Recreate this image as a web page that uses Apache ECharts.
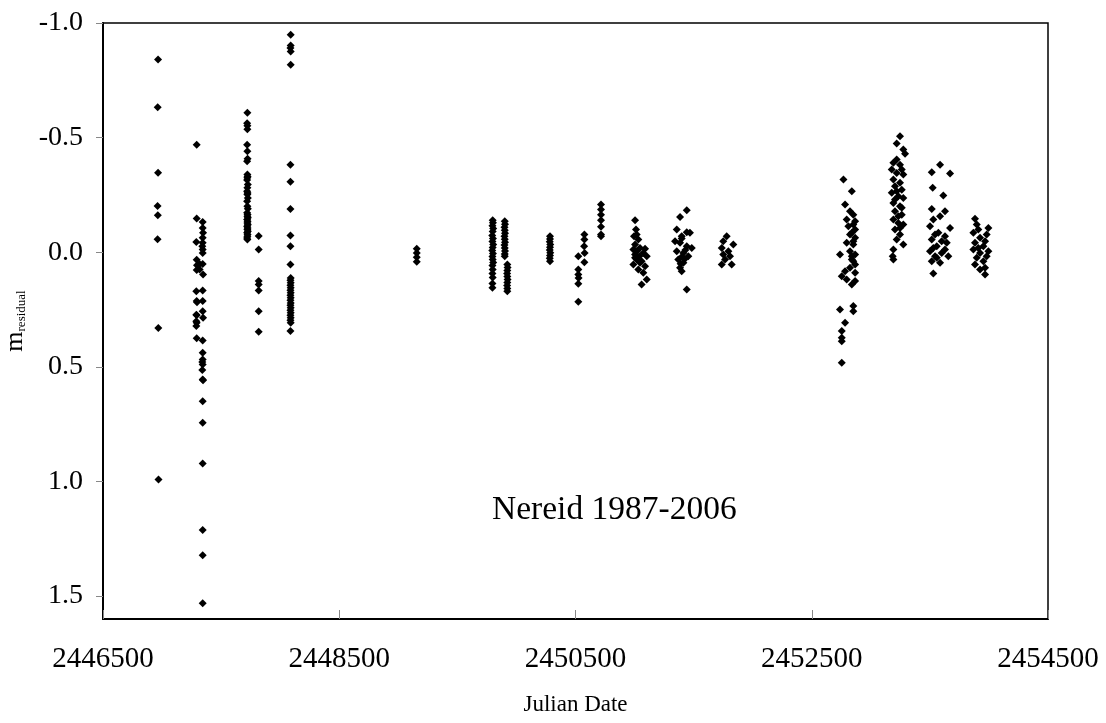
<!DOCTYPE html>
<html>
<head>
<meta charset="utf-8">
<title>Nereid residuals</title>
<script src="https://cdn.jsdelivr.net/npm/echarts@6/dist/echarts.min.js"></script>
<style>
  html, body { margin: 0; padding: 0; background: #fff; }
  #main { width: 1106px; height: 723px; }
</style>
</head>
<body>
<div id="main"></div>
<script>
// axis ticks
var xTicks = [2446500, 2448500, 2450500, 2452500, 2454500];
var yTicks = [-1.0, -0.5, 0.0, 0.5, 1.0, 1.5];

// [Julian Date, m residual] per observing run
var run1987 = [
    [2446966,-0.841],[2446963,-0.632],[2446966,-0.347],[2446962,-0.202],[2446964,-0.161],
    [2446962,-0.057],[2446968,0.330],[2446970,0.991]
];
var run1988 = [
    [2447293,-0.469],[2447293,-0.147],[2447290,-0.045],[2447293,0.033],[2447296,0.057],
    [2447293,0.077],[2447290,0.170],[2447293,0.213],[2447296,0.218],[2447290,0.273],
    [2447293,0.275],[2447290,0.301],[2447293,0.308],[2447290,0.322],[2447293,0.375],
    [2447344,-0.132],[2447344,-0.106],[2447347,-0.085],[2447344,-0.063],[2447344,-0.041],
    [2447341,-0.026],[2447344,-0.012],[2447344,0.003],[2447344,0.051],[2447347,0.097],
    [2447344,0.167],[2447344,0.213],[2447344,0.258],[2447347,0.286],[2447344,0.385],
    [2447344,0.439],[2447344,0.468],[2447341,0.479],[2447344,0.490],[2447341,0.514],
    [2447344,0.555],[2447347,0.559],[2447344,0.650],[2447344,0.744],[2447344,0.922],
    [2447344,1.212],[2447344,1.322],[2447344,1.531],[2447318,0.051],[2447318,0.075]
];
var run1989 = [
    [2447722,-0.608],[2447720,-0.563],[2447722,-0.552],[2447722,-0.536],[2447720,-0.469],
    [2447722,-0.440],[2447724,-0.408],[2447720,-0.397],[2447722,-0.339],[2447724,-0.330],
    [2447722,-0.325],[2447720,-0.315],[2447726,-0.295],[2447722,-0.281],[2447720,-0.266],
    [2447724,-0.258],[2447722,-0.252],[2447726,-0.237],[2447720,-0.222],[2447722,-0.201],
    [2447726,-0.190],[2447720,-0.172],[2447724,-0.165],[2447722,-0.157],[2447726,-0.150],
    [2447720,-0.143],[2447724,-0.135],[2447722,-0.128],[2447726,-0.120],[2447720,-0.113],
    [2447724,-0.106],[2447722,-0.099],[2447726,-0.092],[2447720,-0.085],[2447724,-0.077],
    [2447722,-0.070],[2447720,-0.062],[2447722,-0.055],
    [2447818,-0.071],[2447818,-0.012],[2447818,0.126],[2447818,0.141],[2447818,0.167],
    [2447818,0.257],[2447818,0.347]
];
var run1990 = [
    [2448089,-0.949],[2448089,-0.902],[2448087,-0.891],[2448089,-0.876],[2448089,-0.818],
    [2448087,-0.382],[2448087,-0.307],[2448087,-0.189],[2448087,-0.073],[2448087,-0.026],
    [2448087,0.054],[2448089,0.112],[2448087,0.122],[2448089,0.133],[2448087,0.144],
    [2448089,0.155],[2448087,0.166],[2448089,0.177],[2448087,0.188],[2448089,0.199],
    [2448087,0.210],[2448089,0.221],[2448087,0.231],[2448089,0.242],[2448087,0.253],
    [2448089,0.264],[2448087,0.275],[2448089,0.286],[2448087,0.297],[2448089,0.308],
    [2448087,0.344]
];
var run1993 = [
    [2449156,-0.015],[2449156,0.003],[2449156,0.022],[2449156,0.042]
];
var run1995 = [
    [2449799,-0.139],[2449801,-0.129],[2449797,-0.116],[2449803,-0.103],[2449799,-0.090],
    [2449795,-0.073],[2449801,-0.060],[2449797,-0.047],[2449803,-0.034],[2449799,-0.021],
    [2449795,-0.008],[2449801,0.006],[2449797,0.019],[2449799,0.032],[2449803,0.045],
    [2449797,0.058],[2449799,0.075],[2449797,0.093],[2449799,0.110],[2449797,0.136],
    [2449797,0.155],
    [2449901,-0.135],[2449903,-0.122],[2449899,-0.109],[2449901,-0.096],[2449903,-0.083],
    [2449899,-0.070],[2449901,-0.057],[2449903,-0.044],[2449899,-0.031],[2449901,-0.018],
    [2449903,-0.005],[2449901,0.008],[2449901,0.017],
    [2449923,0.054],[2449925,0.067],[2449923,0.080],[2449921,0.093],[2449923,0.106],
    [2449925,0.119],[2449923,0.132],[2449921,0.145],[2449923,0.158],[2449923,0.170]
];
var run1996 = [
    [2450284,-0.070],[2450284,-0.058],[2450282,-0.046],[2450286,-0.034],[2450284,-0.022],
    [2450282,-0.010],[2450286,0.002],[2450284,0.014],[2450282,0.026],[2450284,0.039]
];
var run1997 = [
    [2450524,0.017],[2450524,0.075],[2450524,0.097],[2450526,0.112],[2450524,0.138],
    [2450524,0.216],[2450575,-0.077],[2450575,-0.055],[2450573,-0.026],[2450577,0.003],
    [2450575,0.044],
    [2450716,-0.208],[2450716,-0.186],[2450716,-0.164],[2450716,-0.139],[2450716,-0.111],
    [2450716,-0.077],[2450716,-0.070]
];
var run1998 = [
    [2451004,-0.139],[2451012,-0.099],[2451018,-0.077],[2451032,-0.055],[2451004,-0.034],
    [2450990,-0.012],[2451046,-0.019],[2451089,-0.015],[2451004,0.010],[2451103,0.017],
    [2451018,0.032],[2451060,0.039],[2450990,0.054],[2451089,0.061],[2451032,0.075],
    [2451074,0.090],[2451103,0.119],[2451060,0.141],[2450995,-0.070],[2451040,0.017],
    [2451018,-0.004],[2451074,0.003],[2451046,0.046],[2451004,0.024]
];
var run1999 = [
    [2451442,-0.183],[2451385,-0.154],[2451357,-0.099],[2451442,-0.087],[2451469,-0.085],
    [2451399,-0.070],[2451343,-0.048],[2451385,-0.041],[2451442,-0.026],[2451484,-0.019],
    [2451357,-0.004],[2451413,0.003],[2451455,0.017],[2451370,0.032],[2451413,0.046],
    [2451385,0.068],[2451399,0.083],[2451442,0.163],[2451399,-0.060],[2451430,-0.010],
    [2451400,0.020],[2451425,0.030],[2451390,0.050]
];
var run2000 = [
    [2451780,-0.070],[2451751,-0.048],[2451836,-0.034],[2451738,-0.019],[2451794,-0.004],
    [2451751,0.010],[2451808,0.017],[2451766,0.032],[2451822,0.054],[2451738,0.054]
];
var run2003 = [
    [2452768,-0.317],[2452839,-0.266],[2452782,-0.208],[2452824,-0.179],[2452852,-0.164],
    [2452796,-0.143],[2452867,-0.135],[2452810,-0.113],[2452867,-0.099],[2452824,-0.077],
    [2452867,-0.063],[2452796,-0.041],[2452852,-0.034],[2452739,0.010],[2452824,-0.004],
    [2452867,0.010],[2452839,0.032],[2452867,0.054],[2452782,0.083],[2452867,0.090],
    [2452754,0.105],[2452796,0.119],[2452867,0.126],[2452839,0.141],[2452739,0.250],
    [2452852,0.235],[2452852,0.257],[2452782,0.308],[2452754,0.344],[2452754,0.373],
    [2452754,0.388],[2452754,0.482],[2452839,-0.085],[2452852,-0.048],[2452839,0.017],
    [2452852,0.039],[2452824,0.068],[2452852,-0.121]
];
var run2004 = [
    [2453247,-0.506],[2453219,-0.474],[2453275,-0.448],[2453290,-0.430],[2453191,-0.390],
    [2453247,-0.382],[2453177,-0.361],[2453219,-0.346],[2453275,-0.339],[2453191,-0.317],
    [2453247,-0.303],[2453205,-0.288],[2453262,-0.273],[2453177,-0.259],[2453233,-0.244],
    [2453275,-0.237],[2453191,-0.215],[2453247,-0.201],[2453205,-0.179],[2453262,-0.164],
    [2453191,-0.143],[2453233,-0.128],[2453275,-0.121],[2453205,-0.099],[2453247,-0.077],
    [2453219,-0.055],[2453275,-0.034],[2453191,-0.012],[2453185,0.017],[2453191,0.032],
    [2453219,-0.404],[2453262,-0.361],[2453219,-0.266],[2453233,-0.157],[2453247,-0.106],
    [2453205,-0.230],[2453262,-0.194]
];
var run2005 = [
    [2453586,-0.382],[2453516,-0.349],[2453671,-0.343],[2453524,-0.281],[2453614,-0.247],
    [2453516,-0.189],[2453628,-0.179],[2453586,-0.157],[2453529,-0.143],[2453671,-0.106],
    [2453501,-0.113],[2453572,-0.085],[2453628,-0.070],[2453516,-0.055],[2453643,-0.041],
    [2453558,-0.026],[2453501,-0.004],[2453600,0.003],[2453544,0.017],[2453656,0.017],
    [2453516,0.039],[2453586,0.046],[2453529,0.093],[2453544,-0.077],[2453600,-0.048],
    [2453529,-0.019],[2453628,-0.012],[2453558,0.024]
];
var run2006 = [
    [2453882,-0.146],[2453897,-0.121],[2453995,-0.106],[2453868,-0.085],[2453925,-0.063],
    [2453981,-0.077],[2453882,-0.041],[2453953,-0.026],[2453868,-0.012],[2453925,0.003],
    [2453995,-0.004],[2453897,0.024],[2453953,0.039],[2453882,0.054],[2453967,0.068],
    [2453925,0.075],[2453967,0.097],[2453910,-0.099],[2453967,-0.048],[2453910,-0.019],
    [2453981,0.017]
];

var allRuns = [run1987, run1988, run1989, run1990, run1993, run1995, run1996, run1997,
               run1998, run1999, run2000, run2003, run2004, run2005, run2006];
var points = [];
allRuns.forEach(function(r){ points = points.concat(r); });

var serif = '"Liberation Serif", "DejaVu Serif", serif';

var myChart = echarts.init(document.getElementById('main'));
var option = {
    animation: false,
    backgroundColor: '#fff',
    grid: {
        left: 103,
        top: 23,
        right: 58,
        bottom: 104,
        outerBoundsMode: 'none',
        containLabel: false,
        show: true,
        borderColor: '#000',
        borderWidth: 1.5
    },
    xAxis: {
        type: 'value',
        min: xTicks[0],
        max: xTicks[xTicks.length - 1],
        interval: xTicks[1] - xTicks[0],
        name: 'Julian Date',
        nameLocation: 'middle',
        nameGap: 74,
        nameTextStyle: { fontFamily: serif, fontSize: 23, color: '#000' },
        axisLine: { onZero: false, lineStyle: { color: '#000', width: 2 } },
        axisTick: { inside: true, length: 9, lineStyle: { color: '#888' } },
        axisLabel: {
            margin: 26,
            fontFamily: serif,
            fontSize: 29,
            color: '#000',
            formatter: function(v){ return String(v); }
        },
        splitLine: { show: false }
    },
    yAxis: {
        type: 'value',
        inverse: true,
        min: yTicks[0],
        max: 1.6,
        interval: 0.5,
        name: '{m|m}{s|residual}',
        nameLocation: 'middle',
        nameRotate: 90,
        nameGap: 75,
        nameTextStyle: {
            color: '#000',
            rich: {
                m: { fontFamily: serif, fontSize: 26, color: '#000', verticalAlign: 'bottom' },
                s: { fontFamily: serif, fontSize: 13, color: '#000', verticalAlign: 'bottom' }
            }
        },
        axisLine: { onZero: false, lineStyle: { color: '#000', width: 2 } },
        axisTick: { inside: false, length: 7, lineStyle: { color: '#888' } },
        axisLabel: {
            margin: 20,
            fontFamily: serif,
            fontSize: 28,
            color: '#000',
            showMaxLabel: false,
            formatter: function(v){ return v.toFixed(1); }
        },
        splitLine: { show: false }
    },
    graphic: [{
        type: 'text',
        left: 492,
        top: 493,
        style: {
            text: 'Nereid 1987-2006',
            font: '33.5px "Liberation Serif", serif',
            fill: '#000'
        }
    }],
    series: [{
        type: 'scatter',
        symbol: 'diamond',
        symbolSize: 8,
        itemStyle: { color: '#000', opacity: 1 },
        data: points
    }]
};
myChart.setOption(option);
</script>
</body>
</html>
